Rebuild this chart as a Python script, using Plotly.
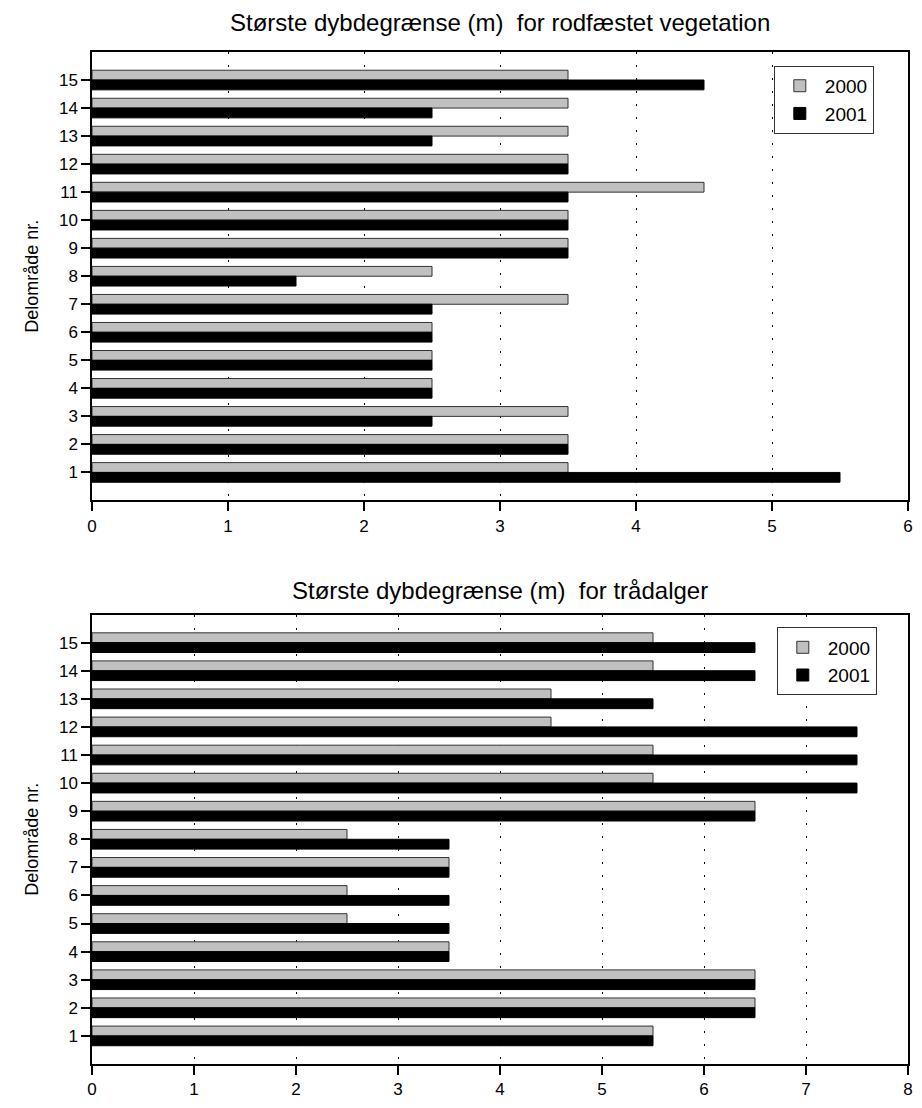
import plotly.graph_objects as go
from plotly.subplots import make_subplots

categories = list(range(1, 16))
top_2000 = [3.5, 3.5, 3.5, 2.5, 2.5, 2.5, 3.5, 2.5, 3.5, 3.5, 4.5, 3.5, 3.5, 3.5, 3.5]
top_2001 = [5.5, 3.5, 2.5, 2.5, 2.5, 2.5, 2.5, 1.5, 3.5, 3.5, 3.5, 3.5, 2.5, 2.5, 4.5]
bot_2000 = [5.5, 6.5, 6.5, 3.5, 2.5, 2.5, 3.5, 2.5, 6.5, 5.5, 5.5, 4.5, 4.5, 5.5, 5.5]
bot_2001 = [5.5, 6.5, 6.5, 3.5, 3.5, 3.5, 3.5, 3.5, 6.5, 7.5, 7.5, 7.5, 5.5, 6.5, 6.5]
title_top = "Største dybdegrænse (m)  for rodfæstet vegetation"
title_bot = "Største dybdegrænse (m)  for trådalger"
y_title = "Delområde nr."

FONT = "Liberation Sans, Arial, Helvetica, sans-serif"
GRAY = "#c0c0c0"
W = 0.35

fig = make_subplots(rows=2, cols=1, vertical_spacing=0.05)

def add_pair(v2000, v2001, row, legend):
    fig.add_trace(go.Bar(y=categories, x=v2000, orientation="h", name="2000",
                         marker=dict(color=GRAY, line=dict(color="#333333", width=1)),
                         width=W, offset=0.0, legend=legend), row=row, col=1)
    fig.add_trace(go.Bar(y=categories, x=v2001, orientation="h", name="2001",
                         marker=dict(color="black", line=dict(color="black", width=1)),
                         width=W, offset=-W, legend=legend), row=row, col=1)

add_pair(top_2000, top_2001, 1, "legend")
add_pair(bot_2000, bot_2001, 2, "legend2")

FW, FH = 922, 1108
ml, mr, mt, mb = 92, 9, 52, 36
ph = FH - mt - mb
pw = FW - ml - mr

def ypaper(screen_y):
    return (FH - mb - screen_y) / ph

top_dom = [ypaper(504), 1.0]
bot_dom = [0.0, ypaper(619)]

axis_common = dict(showline=True, linecolor="black", linewidth=1.5, mirror=True,
                   ticks="outside", ticklen=9, tickwidth=1.5, tickcolor="black",
                   tickfont=dict(size=17, color="black", family=FONT), zeroline=False)

fig.update_yaxes(range=[0, 16], tickvals=categories, showgrid=False, **axis_common)
fig.update_xaxes(dtick=1, tick0=0, showgrid=True, gridcolor="black", gridwidth=1,
                 griddash="2px,11px", **axis_common)
fig.update_xaxes(range=[0, 6], row=1, col=1)
fig.update_xaxes(range=[0, 8], row=2, col=1)
fig.update_yaxes(domain=top_dom, row=1, col=1)
fig.update_yaxes(domain=bot_dom, row=2, col=1)
fig.update_yaxes(title=dict(text=y_title, font=dict(size=18, family=FONT, color="black"), standoff=16))

leg = dict(bgcolor="white", bordercolor="#333333", borderwidth=1,
           font=dict(size=19, family=FONT, color="black"),
           xanchor="left", yanchor="top", itemwidth=40, tracegroupgap=0)
fig.update_layout(
    barmode="overlay",
    width=FW, height=FH,
    margin=dict(l=ml, r=mr, t=mt, b=mb),
    plot_bgcolor="white", paper_bgcolor="white",
    font=dict(family=FONT, color="black"),
    legend=dict(x=(778 - ml) / pw, y=ypaper(66), **leg),
    legend2=dict(x=(781 - ml) / pw, y=ypaper(632), **leg),
)
fig.add_annotation(text=title_top, xref="paper", yref="paper", x=0.5, y=ypaper(22),
                   showarrow=False, font=dict(size=24, family=FONT, color="black"),
                   xanchor="center", yanchor="middle")
fig.add_annotation(text=title_bot, xref="paper", yref="paper", x=0.5, y=ypaper(595),
                   showarrow=False, font=dict(size=24, family=FONT, color="black"),
                   xanchor="center", yanchor="middle")

fig.write_html("out.html",
               config={"displayModeBar": False},
               post_script="document.body.style.margin='0';document.body.style.overflow='hidden';")
